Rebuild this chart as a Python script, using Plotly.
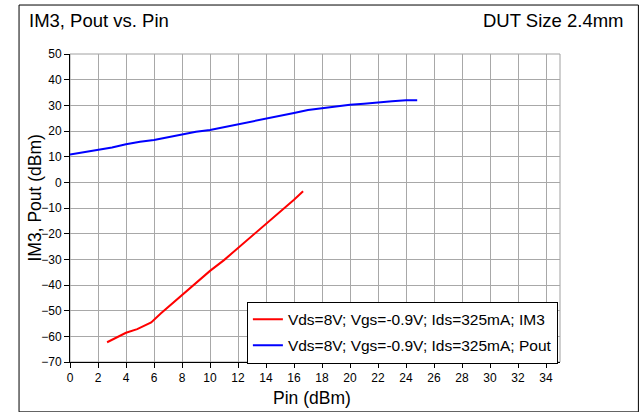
import plotly.graph_objects as go

# Data
im3_pin = [2.65, 3.5, 4.0, 4.8, 5.8, 6.5, 7.2, 8.0, 9.0, 10.0, 11.0, 12.0, 12.8, 13.3, 14.0, 15.0, 16.0, 16.65]
im3_val = [-62.3, -60.0, -58.6, -57.2, -54.6, -51.0, -47.7, -44.0, -39.3, -34.5, -30.3, -25.6, -21.8, -19.6, -16.3, -11.8, -6.8, -3.5]

pout_pin = [0, 1, 2, 3, 4, 5, 6, 7, 8, 9, 10, 11, 12, 13, 14, 15, 16, 17, 18, 19, 20, 21, 22, 23, 24, 24.8]
pout_val = [10.8, 11.7, 12.5, 13.6, 14.8, 15.8, 16.5, 17.6, 18.7, 19.7, 20.4, 21.5, 22.7, 23.7, 24.8, 25.7, 27.0, 28.2, 28.9, 29.6, 30.2, 30.6, 31.2, 31.6, 32.0, 32.0]

series_names = ["Vds=8V; Vgs=-0.9V; Ids=325mA; IM3", "Vds=8V; Vgs=-0.9V; Ids=325mA; Pout"]
x_ticks = list(range(0, 35, 2))
y_ticks = list(range(-70, 51, 10))

FONT = "Liberation Sans, Arial, sans-serif"

fig = go.Figure()
fig.add_trace(go.Scatter(x=im3_pin, y=im3_val, mode="lines", name=series_names[0],
                         line=dict(color="#ff0000", width=2), legendgroup="a"))
fig.add_trace(go.Scatter(x=pout_pin, y=pout_val, mode="lines", name=series_names[1],
                         line=dict(color="#0000ff", width=2), legendgroup="b"))

fig.update_layout(
    width=640, height=412,
    margin=dict(l=70, r=80, t=54, b=50),
    paper_bgcolor="white", plot_bgcolor="white",
    font=dict(family=FONT, color="black", size=12),
    showlegend=True,
    legend=dict(x=0.361, y=0.196, xanchor="left", yanchor="top",
                bgcolor="white", bordercolor="black", borderwidth=1,
                font=dict(size=15.5, family=FONT), traceorder="grouped",
                tracegroupgap=3),
    xaxis=dict(range=[0, 35], tickvals=x_ticks, showgrid=True, gridcolor="#a8a8a8", gridwidth=1,
               showline=True, linecolor="black", linewidth=1, ticks="outside", ticklen=5,
               tickcolor="black", zeroline=False, tickfont=dict(size=12)),
    yaxis=dict(range=[-70, 50], tickvals=y_ticks, showgrid=True, gridcolor="#a8a8a8", gridwidth=1,
               showline=True, linecolor="black", linewidth=1, ticks="outside", ticklen=5,
               tickcolor="black", zeroline=False, tickfont=dict(size=12)),
    shapes=[
        dict(type="rect", xref="paper", yref="paper", x0=0, x1=1, y0=0, y1=1,
             line=dict(color="#a0a0a0", width=1), layer="below"),
        dict(type="rect", xref="paper", yref="paper", x0=-0.104, x1=1.160, y0=-0.162, y1=1.159,
             line=dict(color="black", width=1), layer="above"),
    ],
    annotations=[
        dict(text="IM3, Pout vs. Pin", xref="paper", yref="paper", x=-0.088, y=1.110,
             xanchor="left", yanchor="middle", showarrow=False, font=dict(size=18.5, family=FONT)),
        dict(text="DUT Size 2.4mm", xref="paper", yref="paper", x=1.134, y=1.110,
             xanchor="right", yanchor="middle", showarrow=False, font=dict(size=18.5, family=FONT)),
        dict(text="IM3, Pout (dBm)", xref="paper", yref="paper", x=-0.0715, y=0.534,
             xanchor="center", yanchor="middle", textangle=-90, showarrow=False,
             font=dict(size=17.5, family=FONT)),
        dict(text="Pin (dBm)", xref="paper", yref="paper", x=0.493, y=-0.117,
             xanchor="center", yanchor="middle", showarrow=False, font=dict(size=17.5, family=FONT)),
    ],
)

fig.write_html("out.html", config={"displayModeBar": False},
               post_script="document.body.style.margin='0';document.body.style.overflow='hidden';")
